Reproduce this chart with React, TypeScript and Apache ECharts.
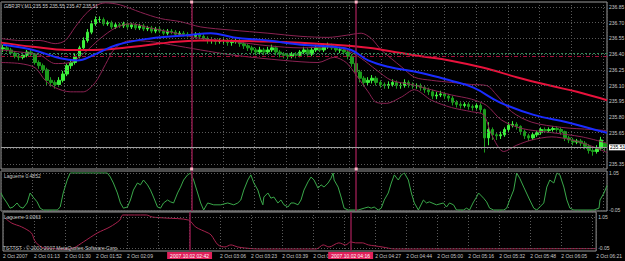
import React, { useEffect, useRef } from "react";
import * as echarts from "echarts";

// ---------- price bars (one bar ~ 2 minutes) ----------
const opens = [
  236.45, 236.46, 236.44, 236.41, 236.38, 236.37, 236.39, 236.42, 236.40, 236.32,
  236.29, 236.25, 236.15, 236.13, 236.11, 236.15, 236.21, 236.29, 236.32, 236.38,
  236.46, 236.53, 236.61, 236.69, 236.73, 236.73, 236.69, 236.70, 236.66, 236.68,
  236.67, 236.69, 236.66, 236.68, 236.65, 236.67, 236.64, 236.65, 236.62, 236.64,
  236.62, 236.60, 236.62, 236.61, 236.59, 236.60, 236.59, 236.58, 236.57, 236.59,
  236.57, 236.55, 236.53, 236.53, 236.52, 236.53, 236.53, 236.51, 236.52, 236.53,
  236.50, 236.48, 236.46, 236.44, 236.42, 236.44, 236.42, 236.44, 236.46, 236.42,
  236.40, 236.39, 236.38, 236.40, 236.39, 236.42, 236.44, 236.40, 236.44, 236.46,
  236.44, 236.47, 236.48, 236.46, 236.44, 236.44, 236.42, 236.38, 236.31, 236.23,
  236.17, 236.13, 236.15, 236.17, 236.13, 236.11, 236.10, 236.11, 236.13, 236.10,
  236.10, 236.13, 236.11, 236.10, 236.10, 236.08, 236.06, 236.04, 236.00, 236.01,
  236.02, 236.00, 235.98, 235.94, 235.92, 235.91, 235.92, 235.90, 235.89, 235.91,
  235.87, 235.60, 235.68, 235.63, 235.62, 235.63, 235.68, 235.72, 235.73, 235.71,
  235.66, 235.62, 235.60, 235.63, 235.65, 235.68, 235.67, 235.68, 235.69, 235.68,
  235.66, 235.60, 235.58, 235.56, 235.57, 235.55, 235.52, 235.48, 235.47, 235.50,
  235.55,
];
const closes = [
  236.46, 236.44, 236.41, 236.38, 236.37, 236.39, 236.42, 236.40, 236.32, 236.29,
  236.25, 236.15, 236.13, 236.11, 236.15, 236.21, 236.29, 236.32, 236.38, 236.46,
  236.53, 236.61, 236.69, 236.73, 236.73, 236.69, 236.70, 236.66, 236.68, 236.67,
  236.69, 236.66, 236.68, 236.65, 236.67, 236.64, 236.65, 236.62, 236.64, 236.62,
  236.60, 236.62, 236.61, 236.59, 236.60, 236.59, 236.58, 236.57, 236.59, 236.57,
  236.55, 236.53, 236.53, 236.52, 236.53, 236.53, 236.51, 236.52, 236.53, 236.50,
  236.48, 236.46, 236.44, 236.42, 236.44, 236.42, 236.44, 236.46, 236.42, 236.40,
  236.39, 236.38, 236.40, 236.39, 236.42, 236.44, 236.40, 236.44, 236.46, 236.44,
  236.47, 236.48, 236.46, 236.44, 236.44, 236.42, 236.38, 236.31, 236.23, 236.17,
  236.13, 236.15, 236.17, 236.13, 236.11, 236.10, 236.11, 236.13, 236.10, 236.10,
  236.13, 236.11, 236.10, 236.10, 236.08, 236.06, 236.04, 236.00, 236.01, 236.02,
  236.00, 235.98, 235.94, 235.92, 235.91, 235.92, 235.90, 235.89, 235.91, 235.87,
  235.60, 235.68, 235.63, 235.62, 235.63, 235.68, 235.72, 235.73, 235.71, 235.66,
  235.62, 235.60, 235.63, 235.65, 235.68, 235.67, 235.68, 235.69, 235.68, 235.66,
  235.60, 235.58, 235.56, 235.57, 235.55, 235.52, 235.48, 235.47, 235.50, 235.58,
  235.51,
];
const lows = [
  236.42, 236.42, 236.39, 236.36, 236.34, 236.35, 236.37, 236.38, 236.30, 236.26,
  236.22, 236.10, 236.09, 236.07, 236.09, 236.13, 236.19, 236.26, 236.30, 236.36,
  236.44, 236.51, 236.59, 236.67, 236.70, 236.67, 236.67, 236.64, 236.64, 236.65,
  236.65, 236.64, 236.64, 236.63, 236.63, 236.62, 236.62, 236.60, 236.60, 236.60,
  236.58, 236.58, 236.59, 236.57, 236.57, 236.57, 236.56, 236.55, 236.55, 236.55,
  236.53, 236.50, 236.50, 236.49, 236.50, 236.50, 236.48, 236.48, 236.50, 236.47,
  236.45, 236.43, 236.41, 236.39, 236.40, 236.39, 236.40, 236.42, 236.39, 236.37,
  236.36, 236.35, 236.36, 236.36, 236.37, 236.40, 236.37, 236.38, 236.42, 236.42,
  236.42, 236.45, 236.44, 236.42, 236.41, 236.39, 236.35, 236.28, 236.19, 236.13,
  236.09, 236.10, 236.12, 236.10, 236.08, 236.07, 236.07, 236.09, 236.07, 236.07,
  236.08, 236.08, 236.07, 236.07, 236.05, 236.03, 236.01, 235.97, 235.97, 235.99,
  235.97, 235.95, 235.91, 235.89, 235.88, 235.89, 235.87, 235.86, 235.87, 235.84,
  235.46, 235.53, 235.58, 235.58, 235.59, 235.61, 235.66, 235.70, 235.68, 235.63,
  235.59, 235.57, 235.58, 235.61, 235.63, 235.65, 235.65, 235.66, 235.66, 235.63,
  235.57, 235.55, 235.53, 235.54, 235.52, 235.49, 235.45, 235.43, 235.45, 235.48,
  235.47,
];
const highs = [
  236.49, 236.48, 236.46, 236.43, 236.40, 236.41, 236.44, 236.44, 236.41, 236.34,
  236.31, 236.27, 236.18, 236.15, 236.18, 236.24, 236.31, 236.35, 236.41, 236.48,
  236.56, 236.64, 236.72, 236.76, 236.76, 236.75, 236.72, 236.72, 236.70, 236.70,
  236.71, 236.71, 236.70, 236.70, 236.69, 236.69, 236.67, 236.67, 236.66, 236.66,
  236.64, 236.64, 236.64, 236.63, 236.62, 236.62, 236.61, 236.60, 236.61, 236.61,
  236.59, 236.57, 236.56, 236.55, 236.55, 236.56, 236.55, 236.54, 236.56, 236.55,
  236.52, 236.50, 236.48, 236.46, 236.47, 236.46, 236.47, 236.49, 236.48, 236.44,
  236.42, 236.41, 236.42, 236.42, 236.44, 236.47, 236.46, 236.47, 236.49, 236.48,
  236.50, 236.51, 236.50, 236.48, 236.47, 236.46, 236.44, 236.40, 236.33, 236.25,
  236.19, 236.18, 236.20, 236.19, 236.15, 236.13, 236.14, 236.16, 236.15, 236.13,
  236.16, 236.15, 236.13, 236.12, 236.12, 236.10, 236.08, 236.06, 236.04, 236.05,
  236.04, 236.02, 236.00, 235.96, 235.94, 235.94, 235.94, 235.92, 235.93, 235.93,
  235.88, 235.75, 235.70, 235.65, 235.66, 235.70, 235.75, 235.76, 235.75, 235.72,
  235.68, 235.64, 235.65, 235.67, 235.70, 235.70, 235.70, 235.71, 235.71, 235.70,
  235.67, 235.62, 235.60, 235.59, 235.59, 235.57, 235.54, 235.50, 235.53, 235.61,
  235.55,
];

// ---------- indicators: [bar position, value] ----------
const maBlue = [
  [0.5, 236.49], [8, 236.44], [14.75, 236.36], [19, 236.34], [23, 236.39], [29, 236.49],
  [37.25, 236.55], [46.5, 236.58], [52.25, 236.6], [58, 236.56], [66.5, 236.53],
  [74.75, 236.49], [83, 236.47], [87.25, 236.44], [91.5, 236.34], [96.5, 236.28],
  [104.75, 236.22], [111.75, 236.15], [117.75, 236.08], [124.25, 235.94],
  [132.75, 235.82], [141, 235.75], [147.75, 235.68], [151, 235.65],
];
const maRed = [
  [0, 236.51], [8, 236.47], [16.5, 236.44], [23, 236.44], [33, 236.47], [41.5, 236.51],
  [49.75, 236.53], [66.5, 236.52], [83, 236.49], [91.5, 236.46], [99.75, 236.41],
  [104.75, 236.38], [111.75, 236.34], [120.25, 236.27], [128.5, 236.18],
  [136.75, 236.1], [143.5, 236.04], [151, 235.96],
];
const bbUpper = [
  [0, 236.55], [4.75, 236.53], [9.75, 236.53], [13.5, 236.5], [16, 236.53], [18.5, 236.66],
  [21, 236.78], [23.5, 236.86], [26, 236.89], [29.75, 236.87], [34.75, 236.8],
  [39.75, 236.74], [44.75, 236.71], [49.75, 236.66], [57.25, 236.63], [66.5, 236.6],
  [74.75, 236.57], [81.5, 236.56], [86, 236.58], [89.75, 236.6], [92.25, 236.55],
  [94.75, 236.44], [99.75, 236.28], [103, 236.18], [107.25, 236.15], [112.25, 236.13],
  [117.25, 236.11], [121, 236.1], [123.5, 236.01], [127.25, 235.85], [132.25, 235.75],
  [139.75, 235.7], [147.25, 235.68], [151, 235.67],
];
const bbMiddle = [
  [0, 236.44], [4.75, 236.42], [9.75, 236.39], [13.5, 236.31], [17.25, 236.32],
  [21, 236.42], [24.75, 236.55], [28.5, 236.65], [32.25, 236.69], [37.25, 236.65],
  [42.25, 236.61], [49.75, 236.55], [58, 236.52], [66.5, 236.48], [74.75, 236.46],
  [82.25, 236.47], [86, 236.44], [89.75, 236.36], [93.5, 236.25], [97.25, 236.15],
  [102.25, 236.11], [107.25, 236.06], [112.25, 236.01], [117.25, 235.97], [121, 235.91],
  [124.75, 235.77], [129.75, 235.69], [137.25, 235.65], [144.75, 235.61], [151, 235.55],
];
const bbLower = [
  [0, 236.32], [4.75, 236.31], [8.5, 236.27], [11, 236.15], [13.5, 236.08], [17.25, 236.04],
  [20.5, 236.04], [23.5, 236.13], [26, 236.3], [28.5, 236.46], [32.25, 236.53],
  [37.25, 236.52], [42.25, 236.49], [49.75, 236.44], [58, 236.39], [70.5, 236.34],
  [79, 236.32], [83, 236.37], [86, 236.32], [88.5, 236.2], [91.5, 236.04], [93.5, 235.94],
  [96, 235.93], [99.75, 235.99], [103, 236.06], [107.25, 235.96], [112.25, 235.89],
  [117.25, 235.85], [120.25, 235.82], [122.25, 235.63], [125.25, 235.47], [128.5, 235.53],
  [132.25, 235.58], [137.25, 235.61], [142.25, 235.58], [147.25, 235.52], [151, 235.46],
];
const lag1 = [
  [0, 0.46], [0.5, 0.35], [1.5, 0.19], [2.25, 0.05], [3, 0.08], [4, 0.19], [4.75, 0.08],
  [5.5, 0.05], [6.5, 0.19], [7.25, 0.46], [8, 0.35], [9, 0.22], [9.75, 0.05], [10.5, 0],
  [14, 0], [14.75, 0.08], [15.5, 0.46], [16.5, 0.81], [17.25, 1], [26.5, 1], [27.25, 0.89],
  [28, 0.73], [29, 0.46], [29.75, 0.19], [30.5, 0.05], [31.5, 0.08], [32.25, 0.27],
  [33, 0.54], [34, 0.73], [34.75, 0.68], [35.5, 0.81], [36.5, 0.68], [37.25, 0.54],
  [38, 0.35], [39, 0.08], [39.75, 0.05], [40.5, 0.19], [41.5, 0.27], [42.25, 0.22],
  [43, 0.19], [44, 0.46], [44.75, 0.62], [45.5, 0.81], [46.5, 0.95], [47.25, 1], [48, 0.81],
  [49, 0.46], [49.75, 0.19], [50.5, 0], [51.5, 0.19], [53, 0.14], [54.75, 0.14],
  [56.5, 0.19], [58, 0.14], [59, 0.19], [59.75, 0.27], [60.5, 0.54], [61.5, 0.81],
  [62.25, 0.95], [63, 0.73], [64, 0.54], [64.75, 0.27], [65.25, 0.14], [65.5, 0.35],
  [66.5, 0.46], [67.25, 0.32], [68, 0.35], [69, 0.19], [69.75, 0.27], [70.5, 0.14],
  [71.5, 0.08], [72.25, 0.19], [73, 0.19], [74, 0.14], [74.75, 0.27], [75.5, 0.54],
  [76.5, 0.76], [77.25, 0.89], [78, 0.81], [79, 0.59], [79.75, 0.68], [80.5, 0.62],
  [81.5, 0.73], [82.25, 0.86], [82.75, 1], [83, 0.81], [84, 0.62], [84.75, 0.35],
  [85.5, 0.05], [86.5, 0], [89, 0], [90.5, 0.05], [91.5, 0.08], [92.25, 0.05], [93, 0.08],
  [94, 0], [94.75, 0.05], [95.5, 0.27], [96.5, 0.46], [97.25, 0.73], [98, 0.95], [99, 0.81],
  [99.75, 0.95], [100.5, 1], [101.5, 0.81], [102.25, 0.46], [103, 0.19], [104, 0],
  [105.25, 0.27], [106, 0.19], [106.75, 0.22], [108.5, 0.14], [110.25, 0.19], [111, 0.08],
  [111.75, 0.19], [112.75, 0.14], [113.5, 0], [115.25, 0], [116, 0.05], [116.75, 0],
  [117.75, 0.22], [118.5, 0.35], [119, 0.46], [120.25, 0.32], [121, 0.22], [121.75, 0.05],
  [122.75, 0], [125.25, 0], [126, 0.05], [126.75, 0.27], [127.75, 0.54], [128.5, 1],
  [129.25, 0.86], [130.25, 0.62], [131.75, 0.27], [132.75, 0.05], [133.5, 0],
  [135.25, 0.19], [136, 0.62], [136.75, 0.81], [137.75, 0.73], [138.5, 1], [139.25, 0.95],
  [140.25, 0.62], [141, 0.27], [141.75, 0.05], [142.75, 0], [147.75, 0], [149, 0.05],
  [149.25, 0.27], [150.25, 0.46], [151, 0.66],
];
const lag2 = [
  [0.5, 0.91], [2.25, 0.76], [4.75, 0.65], [7.25, 0.47], [8, 0.26], [9, 0.12], [10.5, 0.03],
  [16.5, 0], [18, 0.03], [20.5, 0.21], [24, 0.47], [27.25, 0.65], [29.75, 0.85], [30.5, 1],
  [36.5, 1], [38, 0.94], [41.5, 0.91], [47.25, 0.85], [49, 0.65], [50.5, 0.56],
  [52.25, 0.47], [53, 0.41], [54.75, 0.12], [56.5, 0.06], [58, 0.12], [59.75, 0.06],
  [61.5, 0.03], [64.75, 0], [79.75, 0], [81.5, 0.12], [83, 0.06], [85.5, 0.18],
  [87.25, 0.12], [88.5, 0.21], [89.75, 0.18], [91.5, 0.18], [93, 0.12], [94.75, 0.09],
  [96.5, 0.06], [99.75, 0], [151, 0.01],
];

// ---------- axes texts ----------
const priceTicks = [236.85, 236.7, 236.55, 236.4, 236.25, 236.1, 235.95, 235.8, 235.65, 235.5, 235.35];
const bidPrice = 235.51;
const hLineGreen = 236.41;
const hLineRed = 236.38;
const timeLabels = [
  "2 Oct 2007", "2 Oct 01:13", "2 Oct 01:30", "2 Oct 01:52", "2 Oct 02:09", "", "",
  "2 Oct 03:06", "2 Oct 03:23", "2 Oct 03:39", "2 Oct 03:56", "", "2 Oct 04:27",
  "2 Oct 04:44", "2 Oct 05:00", "2 Oct 05:16", "2 Oct 05:32", "2 Oct 05:48",
  "2 Oct 06:05", "2 Oct 06:21",
];
const markerBars = [47, 88];
const markerLabels = ["2007.10.02 02:42", "2007.10.02 04:16"];
const lag1Levels = [1, 0];
const lag1LevelLabels = ["1.05", "-0.05"];
const lag2Levels = [0.94, 0.03];
const lag2LevelLabels = ["1.05", "-0.05"];

const FONT = "Liberation Sans";
const TXT = "#c8c8c8";
const GRIDC = "#5a5a5a";
const MARKC = "#8b1a4a";

export default function App() {
  const ref = useRef<HTMLDivElement>(null);
  useEffect(() => {
    if (!ref.current) return;
    const chart = echarts.init(ref.current, null, { renderer: "svg" });
    const N = closes.length;
    const T = 153;
    const cats = closes.map((_, i) => String(i));
    const candles = closes.map((c, i) => [opens[i], c, lows[i], highs[i]]);

    const timeAxis = (grid: number, labels: boolean) => ({
      type: "value",
      gridIndex: grid,
      position: "bottom",
      min: 0,
      max: T,
      interval: 8,
      axisLine: { show: false },
      axisTick: { show: false },
      axisLabel: labels
        ? {
            show: true,
            align: "left",
            margin: 2,
            fontSize: 5,
            fontFamily: FONT,
            color: TXT,
            showMinLabel: true,
            showMaxLabel: true,
            formatter: (v: number) => timeLabels[Math.round(v / 8)] || "",
          }
        : { show: false },
      splitLine: { show: true, lineStyle: { color: GRIDC, type: [1, 2], width: 1 } },
    });
    const dataAxis = (grid: number) => ({ type: "value", gridIndex: grid, position: "top", min: 0, max: N, show: false });

    const lblStyle = { show: true, position: "end", distance: 2, fontSize: 5, fontFamily: FONT, color: TXT };
    const priceLines = priceTicks.map((v) => ({
      yAxis: v,
      lineStyle: { color: GRIDC, type: [1, 2], width: 1 },
      label: { ...lblStyle, formatter: v === 235.5 ? "" : v.toFixed(2) },
    }));
    const vLine = (bar: number) => ({
      xAxis: bar,
      lineStyle: { color: MARKC, type: "solid", width: 1.5 },
      label: { show: false },
    });

    const option: any = {
      animation: false,
      backgroundColor: "#000000",
      grid: [
        { left: 1, top: 2, width: 606, height: 167, show: true, borderColor: "#9a9a9a", borderWidth: 1, backgroundColor: "#000" },
        { left: 1, top: 171, width: 606, height: 40, show: true, borderColor: "#9a9a9a", borderWidth: 1, backgroundColor: "#000" },
        { left: 1, top: 212, width: 606, height: 39, show: true, borderColor: "#9a9a9a", borderWidth: 1, backgroundColor: "#000" },
      ],
      xAxis: [
        { type: "category", gridIndex: 0, position: "top", data: cats, boundaryGap: true, show: false },
        dataAxis(0),
        timeAxis(0, false),
        dataAxis(1),
        timeAxis(1, false),
        dataAxis(2),
        timeAxis(2, true),
      ],
      yAxis: [
        { type: "value", gridIndex: 0, min: 235.303, max: 236.898, show: false },
        { type: "value", gridIndex: 1, min: -0.027, max: 1.054, show: false },
        { type: "value", gridIndex: 2, min: -0.059, max: 1.088, show: false },
      ],
      series: [
        {
          type: "candlestick",
          xAxisIndex: 0,
          yAxisIndex: 0,
          data: candles,
          barWidth: 3,
          z: 2,
          itemStyle: { color: "#3cf03c", color0: "#1c9c1c", borderColor: "#3cf03c", borderColor0: "#1c9c1c", borderWidth: 1 },
          markLine: {
            silent: true,
            symbol: "none",
            animation: false,
            data: [
              ...priceLines,
              { yAxis: hLineGreen, lineStyle: { color: "#2e8b57", type: [2, 2], width: 1 }, label: { show: false } },
              { yAxis: hLineRed, lineStyle: { color: "#a0103a", type: [4, 2, 1, 2], width: 1 }, label: { show: false } },
              ...markerBars.map((b) => vLine(b)),
              {
                yAxis: bidPrice,
                lineStyle: { color: "#a0a0a0", type: "solid", width: 1 },
                label: { ...lblStyle, formatter: bidPrice.toFixed(2), backgroundColor: "#ffffff", color: "#000", padding: [1, 1, 0, 1] },
              },
            ],
          },
          markPoint: {
            silent: true,
            symbol: "rect",
            symbolSize: 3,
            itemStyle: { color: "#ffb6c8" },
            label: { show: false },
            data: markerBars.flatMap((b) => [
              { coord: [String(b), 236.898] },
              { coord: [String(b), 235.303] },
            ]),
          },
        },
        ...[bbUpper, bbMiddle, bbLower].map((d) => ({
          type: "line",
          xAxisIndex: 1,
          yAxisIndex: 0,
          data: d,
          smooth: 0.3,
          symbol: "none",
          z: 3,
          lineStyle: { color: "#8b2252", width: 1 },
        })),
        { type: "line", xAxisIndex: 1, yAxisIndex: 0, data: maRed, smooth: 0.4, symbol: "none", z: 4, lineStyle: { color: "#e8123c", width: 2 } },
        { type: "line", xAxisIndex: 1, yAxisIndex: 0, data: maBlue, smooth: 0.4, symbol: "none", z: 5, lineStyle: { color: "#1a2cff", width: 2 } },
        {
          type: "line",
          xAxisIndex: 3,
          yAxisIndex: 1,
          data: lag1,
          symbol: "none",
          z: 4,
          lineStyle: { color: "#3aa84a", width: 1 },
          markLine: {
            silent: true,
            symbol: "none",
            data: [
              ...lag1Levels.map((v, i) => ({
                yAxis: v,
                lineStyle: { color: GRIDC, type: [1, 2], width: 1 },
                label: { ...lblStyle, formatter: lag1LevelLabels[i] },
              })),
              ...markerBars.map((b) => vLine(b + 0.5)),
            ],
          },
        },
        {
          type: "line",
          xAxisIndex: 5,
          yAxisIndex: 2,
          data: lag2,
          smooth: 0.3,
          symbol: "none",
          z: 4,
          lineStyle: { color: "#a8224e", width: 1 },
          markLine: {
            silent: true,
            symbol: "none",
            data: [
              ...lag2Levels.map((v, i) => ({
                yAxis: v,
                lineStyle: { color: GRIDC, type: [1, 2], width: 1 },
                label: { ...lblStyle, formatter: lag2LevelLabels[i] },
              })),
              ...markerBars.map((b, i) => ({
                xAxis: b + 0.5,
                lineStyle: { color: MARKC, type: "solid", width: 1.5 },
                label: {
                  show: true,
                  position: "start",
                  distance: 1,
                  formatter: markerLabels[i],
                  fontSize: 5,
                  fontFamily: FONT,
                  color: "#ffffff",
                  backgroundColor: "#e0205a",
                  padding: [1, 3],
                },
              })),
            ],
          },
        },
      ],
      graphic: [
        { type: "text", x: 4, y: 3, z: 10, style: { text: "GBPJPY,M1 235.55 235.55 235.47 235.51", fill: TXT, fontSize: 5, fontFamily: FONT } },
        { type: "text", x: 4, y: 173, z: 10, style: { text: "Laguerre 0.4852", fill: TXT, fontSize: 5, fontFamily: FONT } },
        { type: "text", x: 4, y: 214, z: 10, style: { text: "Laguerre 0.0063", fill: TXT, fontSize: 5, fontFamily: FONT } },
        { type: "text", x: 3, y: 245, z: 10, style: { text: "TSTTST : © 2001-2007 MetaQuotes Software Corp.", fill: TXT, fontSize: 5, fontFamily: FONT } },
      ],
    };
    chart.setOption(option);
    return () => chart.dispose();
  }, []);
  return <div ref={ref} style={{ width: 625, height: 261, position: "absolute", left: 0, top: 0, background: "#000" }} />;
}
